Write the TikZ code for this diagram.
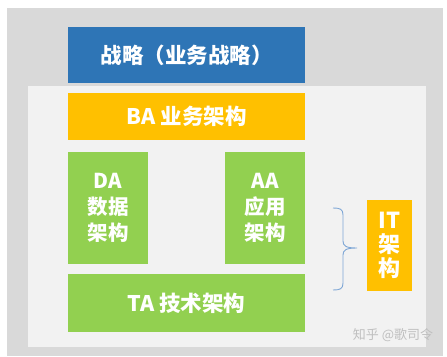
\documentclass[tikz,border=0pt]{standalone}
\usepackage{fontspec}
\setmainfont{Noto Sans CJK SC}
\definecolor{bgGray}{HTML}{D9D9D9}
\definecolor{panelGray}{HTML}{F2F2F2}
\definecolor{stratBlue}{HTML}{2E75B6}
\definecolor{archYellow}{HTML}{FFC000}
\definecolor{archGreen}{HTML}{92D050}
\definecolor{braceBlue}{HTML}{7FA7D6}
\tikzset{
  block/.style={inner sep=0pt, align=center, text=white,
    font=\fontsize{20.5}{26}\selectfont\bfseries},
  wide/.style={block, minimum width=237pt, font=\fontsize{21.5}{26}\selectfont\bfseries},
  tall/.style={block, minimum width=80pt, minimum height=112pt, fill=archGreen},
}
\begin{document}
\begin{tikzpicture}[x=1pt,y=-1pt]
        \useasboundingbox (0,0) rectangle (447,356);
        \fill[white] (0,0) rectangle (447,356);
        \fill[bgGray] (7,8) rectangle (443,356);
        \fill[panelGray] (28,86) rectangle (426,347);

        \node[wide, fill=stratBlue, minimum height=56pt] (strategy) at (186.5,55) {战略（业务战略）};
        \node[wide, fill=archYellow, minimum height=47pt] (ba) at (186.5,116.5) {BA 业务架构};
        \node[tall] (da) at (108,208) {DA\\数据\\架构};
        \node[tall] (aa) at (265,208) {AA\\应用\\架构};
        \node[wide, fill=archGreen, minimum height=58pt] (ta) at (186.5,303) {TA 技术架构};
        \node[block, fill=archYellow, minimum width=45pt, minimum height=91pt,
          font=\fontsize{22}{24}\selectfont\bfseries] (it) at (389.5,245.5) {IT\\架\\构};

        % brace in front of the IT box
        \draw[braceBlue, line width=0.9pt]
          (333,208) .. controls (340,208) and (343,209) .. (343,215)
          -- (343,241) .. controls (343,246) and (346,248) .. (357,248)
          .. controls (346,248) and (343,250) .. (343,255)
          -- (343,283) .. controls (343,289) and (340,290) .. (333,290);

        \node[text=gray!50, font=\fontsize{13}{13}\selectfont] (mark) at (393,335) {知乎 @歌司令};
    \end{tikzpicture}
\end{document}
